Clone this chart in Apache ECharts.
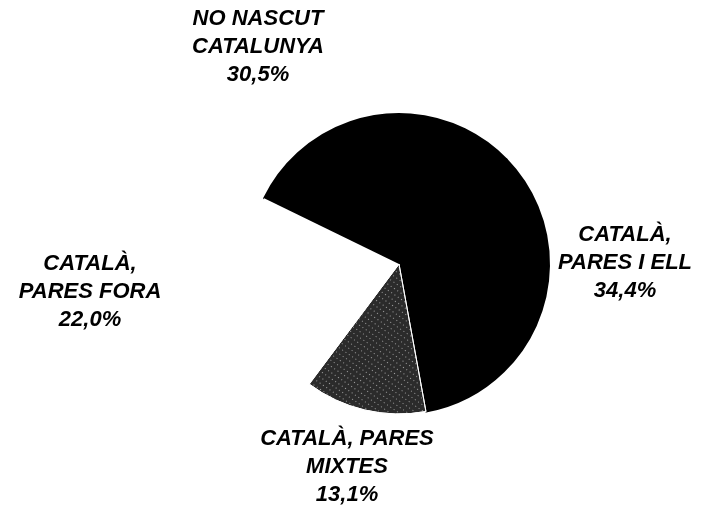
<!DOCTYPE html>
<html>
<head>
<meta charset="utf-8">
<script src="https://cdn.jsdelivr.net/npm/echarts@6/dist/echarts.min.js"></script>
<style>
  html, body { margin: 0; padding: 0; background: #fff; }
  #pieChart { width: 709px; height: 513px; }
</style>
</head>
<body>
<div id="pieChart"></div>
<script>
// slices, clockwise starting at the upper-left edge
var categories = ['NO NASCUT\nCATALUNYA', 'CATALÀ,\nPARES I ELL', 'CATALÀ, PARES\nMIXTES', 'CATALÀ,\nPARES FORA'];
var shares = [30.5, 34.4, 13.1, 22.0];
var sliceColors = ['#000000', '#000000', '#2b2b2b', '#ffffff'];

// where each label block is centred
var labelSpots = [[258, 47], [625, 263], [347, 467], [90, 292]];

var pieData = categories.map(function (name, i) {
  var item = {
    name: name,
    value: shares[i],
    itemStyle: { color: sliceColors[i], borderColor: sliceColors[i], borderWidth: i < 2 ? 2 : 0 }
  };
  if (i === 2) {
    item.itemStyle.borderColor = '#fff';
    item.itemStyle.borderWidth = 1;
    item.itemStyle.decal = {
      symbol: 'rect',
      symbolSize: 1,
      color: 'rgba(255,255,255,0.55)',
      dashArrayX: [1, 3],
      dashArrayY: [1, 4],
      rotation: 0.6
    };
  }
  return item;
});

var chart = echarts.init(document.getElementById('pieChart'));
chart.setOption({
  animation: false,
  backgroundColor: '#fff',
  series: [{
    type: 'pie',
    center: [399, 264],
    radius: 150,
    startAngle: 154,
    clockwise: true,
    avoidLabelOverlap: false,
    label: {
      show: true,
      position: 'outside',
      formatter: function (p) {
        return p.name + '\n' + p.value.toFixed(1).replace('.', ',') + '%';
      },
      fontFamily: 'Liberation Sans, Arial, sans-serif',
      fontStyle: 'italic',
      fontWeight: 'bold',
      fontSize: 22,
      lineHeight: 28,
      color: '#000',
      align: 'center'
    },
    labelLine: { show: false },
    labelLayout: function (p) {
      var s = labelSpots[p.dataIndex];
      return { x: s[0], y: s[1], align: 'center', verticalAlign: 'middle' };
    },
    emphasis: { disabled: true },
    data: pieData
  }]
});
</script>
</body>
</html>
